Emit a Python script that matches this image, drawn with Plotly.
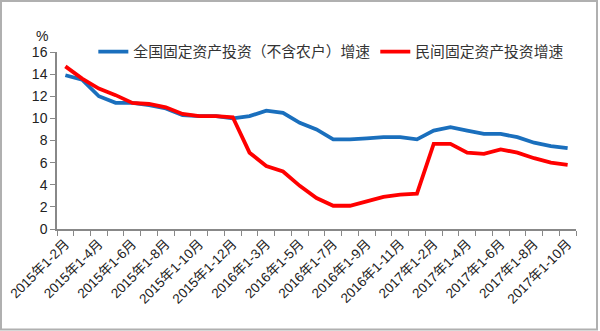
import plotly.graph_objects as go

months_2015 = ["1-2", "1-3", "1-4", "1-5", "1-6", "1-7", "1-8", "1-9", "1-10", "1-11", "1-12"]
months_2016 = ["1-2", "1-3", "1-4", "1-5", "1-6", "1-7", "1-8", "1-9", "1-10", "1-11", "1-12"]
months_2017 = ["1-2", "1-3", "1-4", "1-5", "1-6", "1-7", "1-8", "1-9", "1-10"]
categories = ([f"2015年{m}月" for m in months_2015]
              + [f"2016年{m}月" for m in months_2016]
              + [f"2017年{m}月" for m in months_2017])

total_growth = [13.9, 13.5, 12.0, 11.4, 11.4, 11.2, 10.9, 10.3, 10.2, 10.2, 10.0,
                10.2, 10.7, 10.5, 9.6, 9.0, 8.1, 8.1, 8.2, 8.3, 8.3, 8.1,
                8.9, 9.2, 8.9, 8.6, 8.6, 8.3, 7.8, 7.5, 7.3]
private_growth = [14.7, 13.6, 12.7, 12.1, 11.4, 11.3, 11.0, 10.4, 10.2, 10.2, 10.1,
                  6.9, 5.7, 5.2, 3.9, 2.8, 2.1, 2.1, 2.5, 2.9, 3.1, 3.2,
                  7.7, 7.7, 6.9, 6.8, 7.2, 6.9, 6.4, 6.0, 5.8]

name_total = "全国固定资产投资（不含农户）增速"
name_private = "民间固定资产投资增速"
tick_text = [c if i % 2 == 0 else "" for i, c in enumerate(categories)]
y_ticks = [0, 2, 4, 6, 8, 10, 12, 14, 16]

W, H = 600, 331
L, R, T, B = 57, 24, 52, 102
pw, ph = W - L - R, H - T - B

fig = go.Figure()
fig.add_trace(go.Scatter(x=categories, y=total_growth, mode="lines", name=name_total,
                         line=dict(color="#1a6fbd", width=3.8)))
fig.add_trace(go.Scatter(x=categories, y=private_growth, mode="lines", name=name_private,
                         line=dict(color="#ff0000", width=3.8)))

cjk = "Noto Sans CJK SC"
fig.update_layout(
    width=W, height=H,
    margin=dict(l=L, r=R, t=T, b=B, autoexpand=False),
    paper_bgcolor="white", plot_bgcolor="white",
    showlegend=True,
    legend=dict(orientation="h", x=0.07, y=1.0, xanchor="left", yanchor="middle",
                font=dict(family=cjk, size=14.8, color="#333333"),
                bgcolor="rgba(0,0,0,0)", itemwidth=30),
    font=dict(family="Liberation Sans, Arial", color="#222222"),
)
fig.update_xaxes(
    type="category", range=[-0.5, len(categories) - 0.5],
    tickvals=categories, ticktext=tick_text, tickangle=-45,
    tickson="boundaries", ticks="outside", ticklen=5, tickcolor="#888888",
    showline=True, linecolor="#888888", linewidth=1.5, showgrid=False,
    tickfont=dict(family="Liberation Sans, Arial, " + cjk, size=13.5, color="#222222"),
)
fig.update_yaxes(
    range=[0, 16], tickvals=y_ticks, ticks="outside", ticklen=5, tickcolor="#888888",
    showline=True, linecolor="#888888", linewidth=1.5, showgrid=False, zeroline=False,
    tickfont=dict(family="Liberation Sans, Arial", size=14, color="#222222"),
)
fig.add_annotation(text="%", xref="paper", yref="paper", x=(35 - L) / pw, y=(T + ph - 27) / ph,
                   showarrow=False, borderpad=0,
                   font=dict(family="Liberation Sans, Arial", size=14, color="#222222"))
fig.add_shape(type="rect", xref="paper", yref="paper",
              x0=(1 - L) / pw, x1=(597 - L) / pw,
              y0=(T + ph - 329.5) / ph, y1=(T + ph - 1) / ph,
              line=dict(color="#b0b0b0", width=2), layer="below")

fig.write_html("out.html")
